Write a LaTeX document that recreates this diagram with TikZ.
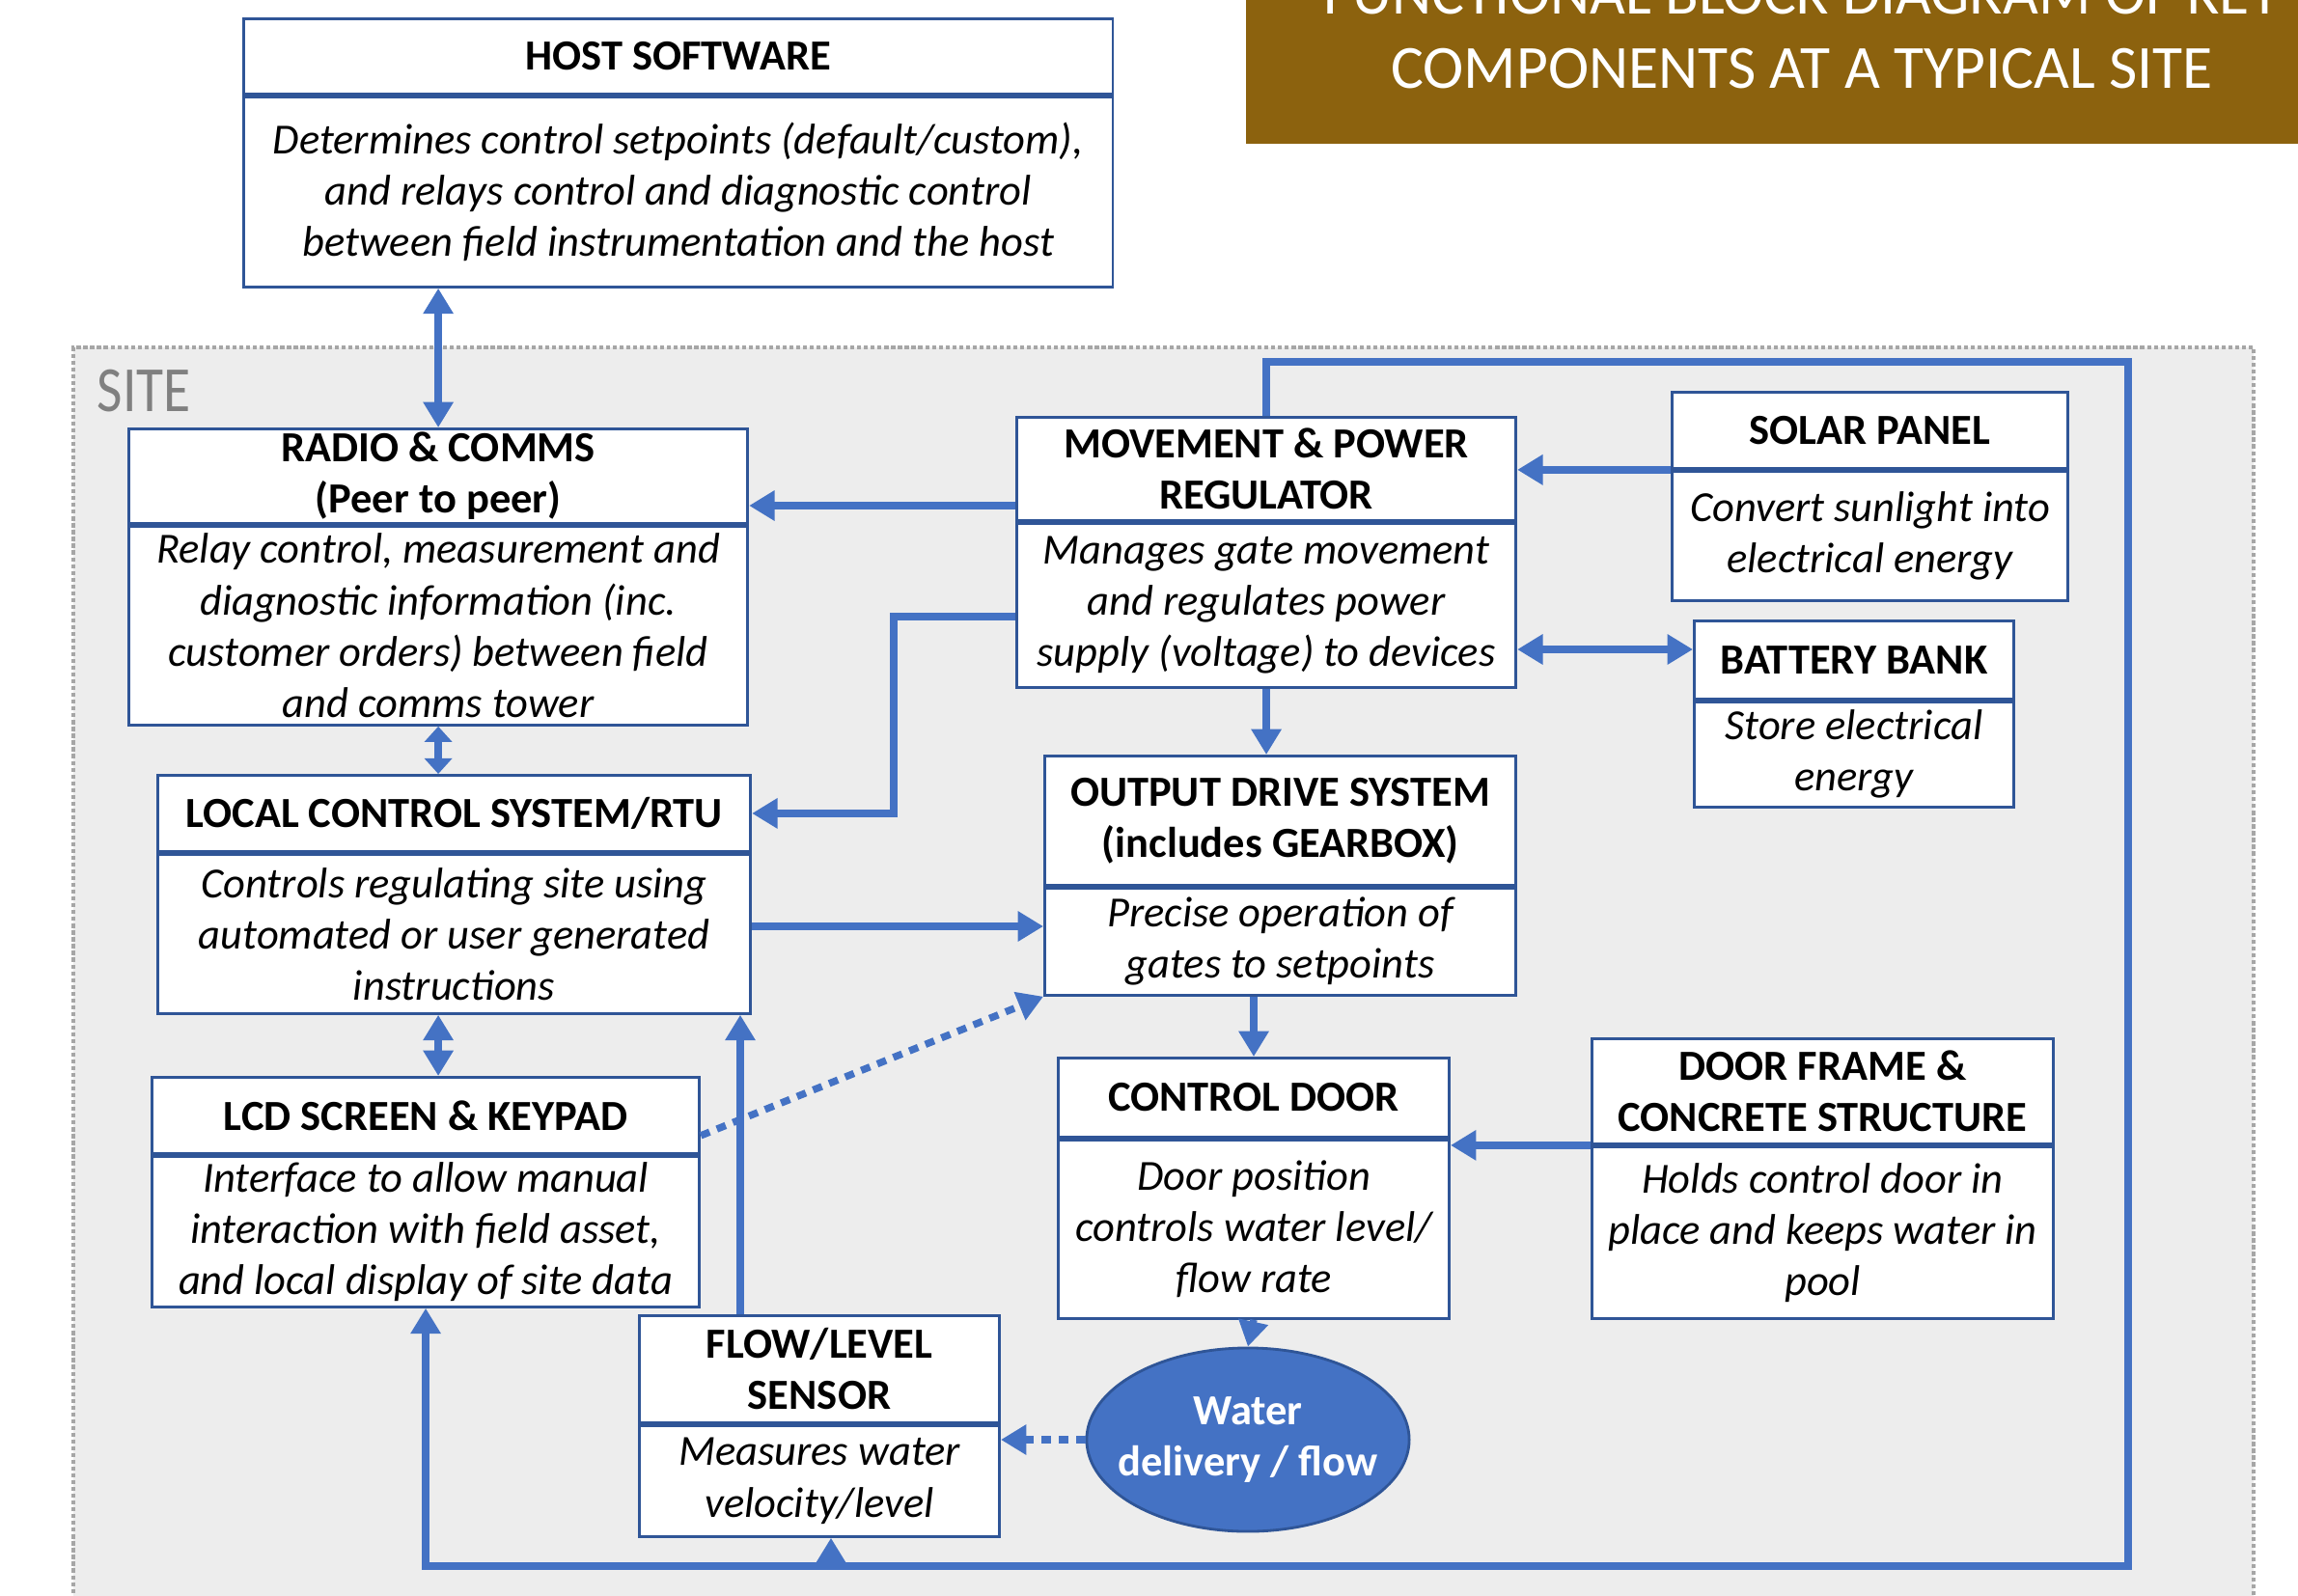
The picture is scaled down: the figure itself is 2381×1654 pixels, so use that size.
\documentclass[tikz,border=0pt]{standalone}
\usepackage{fontspec}
\setmainfont{Carlito}
\newfontfamily\titlefont[FakeStretch=0.86]{Carlito}
\usetikzlibrary{positioning,arrows.meta,shapes.geometric}
\definecolor{lineblue}{HTML}{4472C4}
\definecolor{edgeblue}{HTML}{2F5597}
\definecolor{sitegrey}{HTML}{EDEDED}
\definecolor{bannerbrown}{HTML}{8C620E}
\tikzset{
  >={Triangle[width=8.5pt,length=7.5pt]},
  hdr/.style={draw=edgeblue, line width=0.8pt, fill=white, inner sep=0pt, align=center,
    font=\fontsize{12.65}{15.1}\selectfont\bfseries},
  bdy/.style={hdr, font=\fontsize{12.65}{15.1}\selectfont\itshape},
  link/.style={draw=lineblue, line width=2.1pt, ->},
  link2/.style={link, <->},
  shorttip/.style={>={Triangle[width=8pt,length=4.6pt]}},
  dots/.style={link, dash pattern=on 2.8pt off 2.3pt},
  bigloop/.style={link, line width=2.4pt},
}
\begin{document}
\begin{tikzpicture}[x=0.01cm, y=-0.01cm]
  \useasboundingbox (0,0) rectangle (2381,1654);
  % site area
  \fill[sitegrey] (76,360) rectangle (2335,1700);
  \draw[gray!70, line width=0.9pt, dash pattern=on 1.2pt off 0.8pt] (76,1700) -- (76,360) -- (2335,360) -- (2335,1700);
  \node[anchor=south west, inner sep=0pt, text=gray, font=\titlefont\fontsize{19}{22}\selectfont] (site) at (100,428) {SITE};
  % title banner
  \fill[bannerbrown] (1291,-10) rectangle (2400,149);
  \node[anchor=south, inner sep=0pt, text=white, align=center, font=\fontsize{18.1}{21.9}\selectfont] (title) at (1867,93) {FUNCTIONAL BLOCK DIAGRAM OF KEY\\COMPONENTS AT A TYPICAL SITE};

  % blocks
  \node[hdr, anchor=north west, minimum width=9cm, minimum height=0.78cm] (host-h) at (251,18) {HOST SOFTWARE};
  \node[bdy, below=0pt of host-h, minimum width=9cm, minimum height=1.97cm] (host-b) {Determines control setpoints (default/custom),\\and relays control and diagnostic control\\between field instrumentation and the host};

  \node[hdr, anchor=north west, minimum width=6.41cm, minimum height=0.98cm] (radio-h) at (132,443) {RADIO \& COMMS\\(Peer to peer)};
  \node[bdy, below=0pt of radio-h, minimum width=6.41cm, minimum height=2.06cm] (radio-b) {Relay control, measurement and\\diagnostic information (inc.\\customer orders) between field\\and comms tower};

  \node[hdr, anchor=north west, minimum width=5.17cm, minimum height=1.07cm] (move-h) at (1052,431) {MOVEMENT \& POWER\\REGULATOR};
  \node[bdy, below=0pt of move-h, minimum width=5.17cm, minimum height=1.70cm] (move-b) {Manages gate movement\\and regulates power\\supply (voltage) to devices};

  \node[hdr, anchor=north west, minimum width=4.10cm, minimum height=0.79cm] (solar-h) at (1731,405) {SOLAR PANEL};
  \node[bdy, below=0pt of solar-h, minimum width=4.10cm, minimum height=1.34cm] (solar-b) {Convert sunlight into\\electrical energy};

  \node[hdr, anchor=north west, minimum width=3.31cm, minimum height=0.81cm] (batt-h) at (1754,642) {BATTERY BANK};
  \node[bdy, below=0pt of batt-h, minimum width=3.31cm, minimum height=1.09cm] (batt-b) {Store electrical\\energy};

  \node[hdr, anchor=north west, minimum width=6.14cm, minimum height=0.79cm] (local-h) at (162,802) {LOCAL CONTROL SYSTEM/RTU};
  \node[bdy, below=0pt of local-h, minimum width=6.14cm, minimum height=1.65cm] (local-b) {Controls regulating site using\\automated or user generated\\instructions};

  \node[hdr, anchor=north west, minimum width=4.88cm, minimum height=1.34cm] (out-h) at (1081,782) {OUTPUT DRIVE SYSTEM\\(includes GEARBOX)};
  \node[bdy, below=0pt of out-h, minimum width=4.88cm, minimum height=1.11cm] (out-b) {Precise operation of\\gates to setpoints};

  \node[hdr, anchor=north west, minimum width=5.67cm, minimum height=0.79cm] (lcd-h) at (156,1115) {LCD SCREEN \& KEYPAD};
  \node[bdy, below=0pt of lcd-h, minimum width=5.67cm, minimum height=1.56cm] (lcd-b) {Interface to allow manual\\interaction with field asset,\\and local display of site data};

  \node[hdr, anchor=north west, minimum width=4.05cm, minimum height=0.82cm] (door-h) at (1095,1095) {CONTROL DOOR};
  \node[bdy, below=0pt of door-h, minimum width=4.05cm, minimum height=1.85cm] (door-b) {Door position\\controls water level/\\flow rate};

  \node[hdr, anchor=north west, minimum width=4.78cm, minimum height=1.09cm] (frame-h) at (1648,1075) {DOOR FRAME \&\\CONCRETE STRUCTURE};
  \node[bdy, below=0pt of frame-h, minimum width=4.78cm, minimum height=1.78cm] (frame-b) {Holds control door in\\place and keeps water in\\pool};

  \node[hdr, anchor=north west, minimum width=3.73cm, minimum height=1.11cm] (flow-h) at (661,1362) {FLOW/LEVEL\\SENSOR};
  \node[bdy, below=0pt of flow-h, minimum width=3.73cm, minimum height=1.15cm] (flow-b) {Measures water\\velocity/level};

  \node[ellipse, fill=lineblue, draw=edgeblue, line width=0.8pt, inner sep=0pt, minimum width=3.34cm, minimum height=1.90cm,
    align=center, text=white, font=\fontsize{12.65}{15.1}\selectfont\bfseries] (water) at (1293,1492) {\makebox[0pt]{Water}\\\makebox[0pt]{delivery / flow}};

  % connectors
  \draw[link2] (host-b.south -| radio-h.north) -- (radio-h.north);
  \draw[link] (move-h.west |- 0,524) -- (radio-h.east |- 0,524);
  \draw[link2, shorttip] (radio-b.south) -- (radio-b.south |- local-h.north);
  \draw[link] (move-b.west |- 0,639) -- ++(-126,0) |- (local-h.east);
  \draw[link] (solar-h.south west) -- (solar-h.south west -| move-h.east);
  \draw[link2] (move-b.east |- 0,673) -- (batt-h.west |- 0,673);
  \draw[link] (move-b.south) -- (move-b.south |- out-h.north);
  \draw[link] (local-b.east |- 0,960) -- (out-b.west |- 0,960);
  \draw[link2] (local-b.south -| radio-b.south) -- (lcd-h.north -| radio-b.south);
  \draw[link] (flow-h.north -| 767,0) -- (local-b.south -| 767,0);
  \draw[dots] ([yshift=0.2cm]lcd-h.south east) -- (out-b.south west);
  \draw[link] (door-h.north |- out-b.south) -- (door-h.north);
  \draw[link] (frame-h.south west) -- (frame-h.south west -| door-b.east);
  \draw[link] (door-b.south) -- (water.north);
  \draw[dots] (water.west) -- (water.west -| flow-b.east);

  % loop back from the regulator
  \coordinate (loopne) at (2205,375);
  \coordinate (loopse) at (2205,1623);
  \draw[bigloop] (move-h.north) |- (loopne) -- (loopse) -| (lcd-b.south);
  \draw[link] (loopse -| 861,0) -- (flow-b.south -| 861,0);
\end{tikzpicture}
\end{document}
